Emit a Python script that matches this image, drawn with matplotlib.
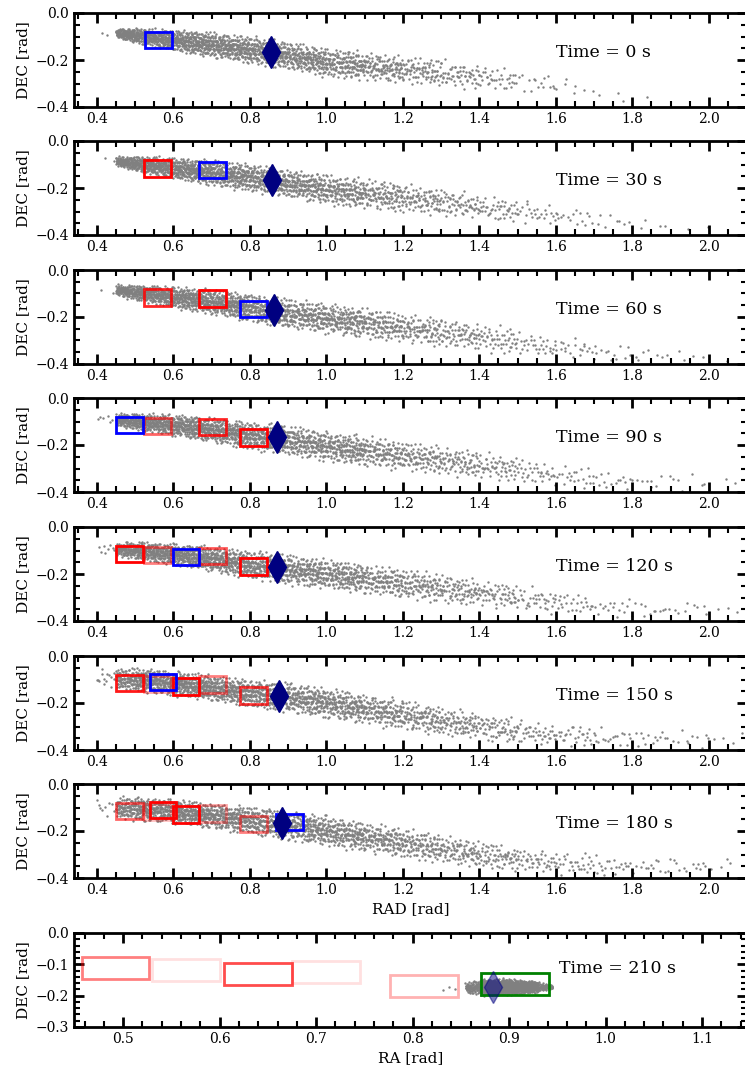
#!/usr/bin/env python3
"""Snapshots of the particle cloud with the search boxes, t = 0 ... 210 s."""

import numpy as np
import matplotlib
matplotlib.use("Agg")
import matplotlib.pyplot as plt
from matplotlib.patches import Rectangle
from matplotlib.ticker import MultipleLocator

TIMES = [0, 30, 60, 90, 120, 150, 180, 210]

# target (diamond) position per snapshot
TARGET_RA = [0.854, 0.857, 0.862, 0.870, 0.872, 0.875, 0.883, 0.883]
TARGET_DEC = [-0.166, -0.168, -0.170, -0.168, -0.170, -0.170, -0.164, -0.172]

BOX = 0.07  # box side in rad

# search boxes: (ra0, dec0, colour, alpha); last entry is the current box
BOXES = [
    [(0.525, -0.150, "blue", 1.0)],
    [(0.523, -0.152, "red", 1.0), (0.668, -0.158, "blue", 1.0)],
    [(0.523, -0.152, "red", 0.85), (0.668, -0.157, "red", 1.0),
     (0.775, -0.202, "blue", 1.0)],
    [(0.523, -0.153, "red", 0.6), (0.668, -0.158, "red", 0.85),
     (0.775, -0.203, "red", 1.0), (0.450, -0.150, "blue", 1.0)],
    [(0.450, -0.150, "red", 1.0), (0.523, -0.153, "red", 0.5),
     (0.668, -0.158, "red", 0.65), (0.775, -0.203, "red", 1.0),
     (0.598, -0.163, "blue", 1.0)],
    [(0.450, -0.150, "red", 0.9), (0.523, -0.153, "red", 0.35),
     (0.598, -0.165, "red", 1.0), (0.668, -0.157, "red", 0.5),
     (0.775, -0.204, "red", 0.75), (0.538, -0.145, "blue", 1.0)],
    [(0.450, -0.150, "red", 0.6), (0.523, -0.153, "red", 0.25),
     (0.538, -0.145, "red", 1.0), (0.598, -0.165, "red", 1.0),
     (0.668, -0.160, "red", 0.35), (0.775, -0.205, "red", 0.5),
     (0.868, -0.197, "blue", 1.0)],
    [(0.457, -0.148, "red", 0.5), (0.530, -0.152, "red", 0.12),
     (0.605, -0.165, "red", 0.7), (0.675, -0.158, "red", 0.12),
     (0.777, -0.203, "red", 0.3), (0.871, -0.199, "green", 1.0)],
]

# cloud envelope (panels 1-7 share the RA knots):
# centre DEC, outer half spread and number of particles between knots
CLOUD_RA = [0.40, 0.45, 0.50, 0.60, 0.70, 0.80, 0.90, 1.00, 1.10, 1.20,
            1.30, 1.40, 1.50, 1.60, 1.70, 1.80, 1.90, 2.00, 2.10]

CLOUD_MID = [
    [-0.085, -0.085, -0.095, -0.115, -0.135, -0.157, -0.180, -0.210, -0.225,
     -0.240, -0.255, -0.270, -0.290, -0.310, -0.335, -0.355, -0.360, -0.360, -0.360],
    [-0.085, -0.085, -0.095, -0.115, -0.135, -0.155, -0.180, -0.205, -0.225,
     -0.240, -0.260, -0.280, -0.300, -0.315, -0.330, -0.350, -0.370, -0.370, -0.370],
    [-0.085, -0.085, -0.095, -0.115, -0.135, -0.160, -0.185, -0.205, -0.225,
     -0.245, -0.265, -0.285, -0.305, -0.330, -0.345, -0.360, -0.370, -0.380, -0.380],
    [-0.090, -0.090, -0.100, -0.115, -0.135, -0.160, -0.180, -0.205, -0.225,
     -0.245, -0.265, -0.285, -0.305, -0.330, -0.345, -0.355, -0.355, -0.355, -0.355],
    [-0.095, -0.095, -0.100, -0.115, -0.135, -0.160, -0.180, -0.200, -0.220,
     -0.240, -0.260, -0.280, -0.300, -0.320, -0.335, -0.350, -0.350, -0.345, -0.345],
    [-0.095, -0.095, -0.100, -0.115, -0.135, -0.160, -0.175, -0.200, -0.225,
     -0.250, -0.275, -0.300, -0.320, -0.335, -0.345, -0.350, -0.350, -0.350, -0.350],
    [-0.100, -0.100, -0.105, -0.115, -0.135, -0.155, -0.175, -0.200, -0.225,
     -0.250, -0.275, -0.300, -0.320, -0.335, -0.345, -0.350, -0.350, -0.350, -0.350],
]

CLOUD_HALF = [
    [0.012, 0.020, 0.035, 0.050, 0.058, 0.065, 0.065, 0.070, 0.065, 0.065,
     0.065, 0.060, 0.055, 0.045, 0.040, 0.030, 0.015, 0.015, 0.015],
    [0.012, 0.020, 0.035, 0.050, 0.058, 0.065, 0.065, 0.070, 0.070, 0.070,
     0.065, 0.060, 0.055, 0.050, 0.045, 0.040, 0.030, 0.015, 0.015],
    [0.015, 0.025, 0.035, 0.050, 0.058, 0.065, 0.070, 0.070, 0.070, 0.070,
     0.070, 0.065, 0.060, 0.055, 0.050, 0.045, 0.035, 0.030, 0.015],
    [0.020, 0.028, 0.040, 0.050, 0.058, 0.065, 0.070, 0.070, 0.070, 0.070,
     0.070, 0.065, 0.060, 0.055, 0.050, 0.045, 0.045, 0.035, 0.030],
    [0.020, 0.030, 0.042, 0.050, 0.058, 0.065, 0.070, 0.070, 0.070, 0.070,
     0.070, 0.065, 0.060, 0.055, 0.050, 0.045, 0.045, 0.035, 0.030],
    [0.040, 0.048, 0.055, 0.058, 0.058, 0.065, 0.070, 0.070, 0.070, 0.070,
     0.070, 0.065, 0.060, 0.055, 0.050, 0.045, 0.045, 0.045, 0.035],
    [0.040, 0.048, 0.055, 0.058, 0.058, 0.065, 0.070, 0.070, 0.070, 0.070,
     0.070, 0.065, 0.060, 0.055, 0.050, 0.045, 0.045, 0.045, 0.035],
]

CLOUD_N = [
    [2, 150, 330, 330, 300, 260, 230, 180, 130, 85, 60, 35, 15, 7, 3, 1, 0, 0],
    [2, 140, 320, 320, 290, 250, 220, 180, 130, 90, 65, 45, 25, 15, 8, 4, 2, 0],
    [2, 130, 300, 310, 290, 250, 220, 190, 140, 100, 75, 50, 30, 20, 12, 7, 5, 1],
    [6, 130, 300, 300, 280, 250, 220, 190, 140, 105, 80, 55, 34, 22, 14, 9, 6, 2],
    [8, 120, 290, 300, 280, 250, 220, 190, 145, 110, 85, 58, 36, 24, 16, 11, 8, 3],
    [15, 110, 270, 290, 270, 250, 230, 200, 155, 120, 90, 65, 40, 28, 18, 13, 10, 4],
    [10, 110, 260, 290, 270, 250, 230, 205, 160, 125, 95, 68, 43, 30, 20, 14, 11, 5],
]

# last snapshot: compact cloud inside the green box
LAST_RA = [0.830, 0.855, 0.870, 0.900, 0.930, 0.945]
LAST_MID = [-0.175, -0.175, -0.173, -0.172, -0.172, -0.172]
LAST_HALF = [0.008, 0.018, 0.028, 0.028, 0.018, 0.008]
LAST_N = [4, 90, 650, 520, 70]

FIG_W, FIG_H = 745, 1068
PANEL_TOP = [13, 141, 270, 398, 527, 656, 784, 933]
PANEL_H = 94
AX_LEFT, AX_RIGHT = 74, 747


def halton(n, base, skip):
    out = np.empty(n)
    for i in range(n):
        f, r, k = 1.0, 0.0, i + skip
        while k > 0:
            f /= base
            r += f * (k % base)
            k //= base
        out[i] = r
    return out


def fill_cloud(knots, mid, half, counts, seed_skip):
    xs, ys = [], []
    skip = seed_skip
    for k, n in enumerate(counts):
        if n == 0:
            continue
        u = halton(n, 2, skip)
        v1 = halton(n, 3, skip)
        v2 = halton(n, 5, skip)
        skip += n
        x = knots[k] + u * (knots[k + 1] - knots[k])
        m = np.interp(x, knots, mid)
        h = np.interp(x, knots, half)
        xs.append(x)
        ys.append(m + h * (v1 + v2 - 1.0))
    return np.concatenate(xs), np.concatenate(ys)


def style_axes(ax, last):
    for sp in ax.spines.values():
        sp.set_linewidth(2)
    ax.tick_params(which="both", direction="in", top=True, right=True,
                   labelsize=10)
    ax.tick_params(which="major", length=7, width=2)
    ax.tick_params(which="minor", length=4, width=1.5)
    if last:
        ax.xaxis.set_major_locator(MultipleLocator(0.1))
        ax.xaxis.set_minor_locator(MultipleLocator(0.02))
        ax.yaxis.set_major_locator(MultipleLocator(0.1))
        ax.yaxis.set_minor_locator(MultipleLocator(0.02))
    else:
        ax.xaxis.set_major_locator(MultipleLocator(0.2))
        ax.xaxis.set_minor_locator(MultipleLocator(0.05))
        ax.yaxis.set_major_locator(MultipleLocator(0.2))
        ax.yaxis.set_minor_locator(MultipleLocator(0.05))


def main():
    plt.rcParams["font.family"] = "DejaVu Serif"
    fig = plt.figure(figsize=(FIG_W / 100, FIG_H / 100), dpi=100)

    for i, t in enumerate(TIMES):
        last = i == len(TIMES) - 1
        top = PANEL_TOP[i]
        ax = fig.add_axes([AX_LEFT / FIG_W, 1 - (top + PANEL_H) / FIG_H,
                           (AX_RIGHT - AX_LEFT) / FIG_W, PANEL_H / FIG_H])

        if last:
            x, y = fill_cloud(LAST_RA, LAST_MID, LAST_HALF, LAST_N, 7919)
        else:
            x, y = fill_cloud(CLOUD_RA, CLOUD_MID[i], CLOUD_HALF[i],
                              CLOUD_N[i], 1 + 997 * i)
        ax.scatter(x, y, s=3, c="gray", marker="o", linewidths=0, zorder=1)

        for ra0, dec0, col, a in BOXES[i]:
            ax.add_patch(Rectangle((ra0, dec0), BOX, BOX, fill=False,
                                   edgecolor=col, alpha=a, linewidth=2,
                                   zorder=2))

        ax.plot(TARGET_RA[i], TARGET_DEC[i], marker="d", color="navy",
                markersize=16, linestyle="none", zorder=3,
                alpha=0.5 if last else 1.0)

        if last:
            ax.set_xlim(0.449, 1.1466)
            ax.set_ylim(-0.3, 0.0)
            ax.text(0.952, -0.112, f"Time = {t} s", fontsize=12.5, va="center")
            ax.set_xlabel("RA [rad]", fontsize=11)
        else:
            ax.set_xlim(0.34, 2.10)
            ax.set_ylim(-0.4, 0.0)
            ax.text(1.60, -0.17, f"Time = {t} s", fontsize=12.5, va="center")
            if i == len(TIMES) - 2:
                ax.set_xlabel("RAD [rad]", fontsize=11)
        ax.set_ylabel("DEC [rad]", fontsize=11)
        style_axes(ax, last)

    fig.savefig("out.png", dpi=100)


if __name__ == "__main__":
    main()
